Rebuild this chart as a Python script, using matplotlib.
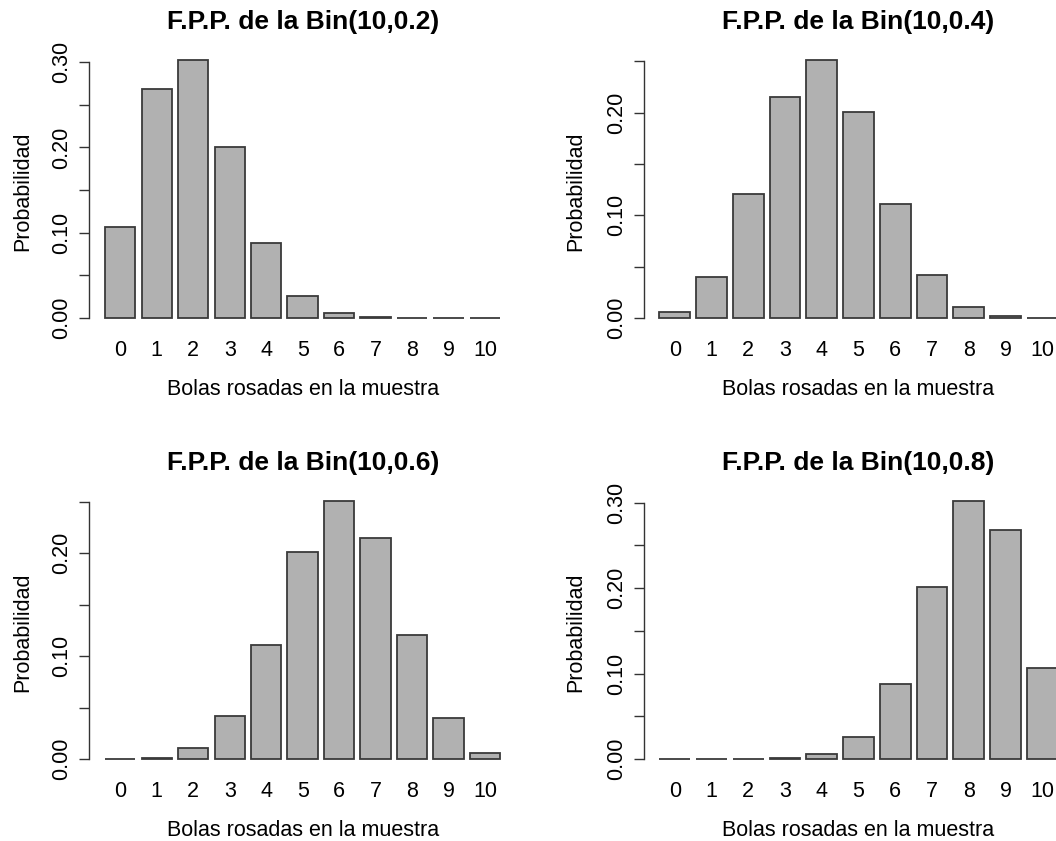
import matplotlib
matplotlib.use("Agg")
import matplotlib.pyplot as plt
from matplotlib.ticker import MultipleLocator, FuncFormatter

plt.rcParams['font.family'] = ['Liberation Sans', 'DejaVu Sans']

categories = [str(k) for k in range(11)]
p_02 = [0.107, 0.268, 0.302, 0.201, 0.088, 0.026, 0.0055, 0.0008, 0.0001, 0.0000, 0.0000]
p_04 = [0.006, 0.040, 0.121, 0.215, 0.251, 0.201, 0.111, 0.042, 0.011, 0.0016, 0.0001]
p_06 = [0.0001, 0.0016, 0.011, 0.042, 0.111, 0.201, 0.251, 0.215, 0.121, 0.040, 0.006]
p_08 = [0.0000, 0.0000, 0.0001, 0.0008, 0.0055, 0.026, 0.088, 0.201, 0.302, 0.268, 0.107]
titles = ["F.P.P. de la Bin(10,0.2)", "F.P.P. de la Bin(10,0.4)",
          "F.P.P. de la Bin(10,0.6)", "F.P.P. de la Bin(10,0.8)"]
top_ticks = [0.30, 0.25, 0.25, 0.30]
xlabel = "Bolas rosadas en la muestra"
ylabel = "Probabilidad"

W, H = 1056, 841
fig = plt.figure(figsize=(W / 100, H / 100), dpi=100)

# axes rectangles in pixel coords (left, top, width, height)
rects = [(89.2, 50.0, 427.0, 278.4), (643.5, 50.0, 430.0, 278.4),
         (89.2, 490.5, 427.0, 279.0), (643.5, 490.5, 430.0, 279.0)]

series = [p_02, p_04, p_06, p_08]
fill = "#b1b1b1"
edge = "#3a3a3a"
fs = 15.5

for vals, title, rect, ttop in zip(series, titles, rects, top_ticks):
    l, t, w, h = rect
    ax = fig.add_axes([l / W, (H - t - h) / H, w / W, h / H])
    n = len(vals)
    xs = [0.7 + 1.2 * i for i in range(n)]
    ax.bar(xs, vals, width=1.0, color=fill, edgecolor=edge, linewidth=1.3)
    ymax = max(vals)
    ax.set_ylim(-0.04 * ymax, 1.04 * ymax)
    xmin, xmax = 0.2, 0.2 + 1.2 * n - 0.2
    ext = 0.04 * (xmax - xmin)
    ax.set_xlim(xmin - ext, xmax + ext)
    for s in ["top", "right", "bottom"]:
        ax.spines[s].set_visible(False)
    ax.spines["left"].set_bounds(0, ttop)
    ax.spines["left"].set_color("#333333")
    ax.spines["left"].set_linewidth(1.0)
    ax.set_xticks(xs)
    ax.set_xticklabels(categories)
    ax.tick_params(axis='x', length=0, pad=8.5, labelsize=fs)
    ax.yaxis.set_major_locator(MultipleLocator(0.05))
    ax.yaxis.set_major_formatter(FuncFormatter(
        lambda v, p: f"{v:.2f}" if round(v * 100) % 10 == 0 else ""))
    ax.tick_params(axis='y', length=7.5, width=1.0, color="#333333", pad=4.5, labelsize=fs)
    for lab in ax.get_yticklabels():
        lab.set_rotation(90)
        lab.set_va('center')
    ax.set_title(title, fontsize=19, fontweight='bold', pad=15)
    ax.set_xlabel(xlabel, fontsize=fs)
    ax.set_ylabel(ylabel, fontsize=fs)
    ax.xaxis.set_label_coords(0.5, -0.182)
    ax.yaxis.set_label_coords(-0.132, 0.493)

fig.savefig("out.png", dpi=100)
